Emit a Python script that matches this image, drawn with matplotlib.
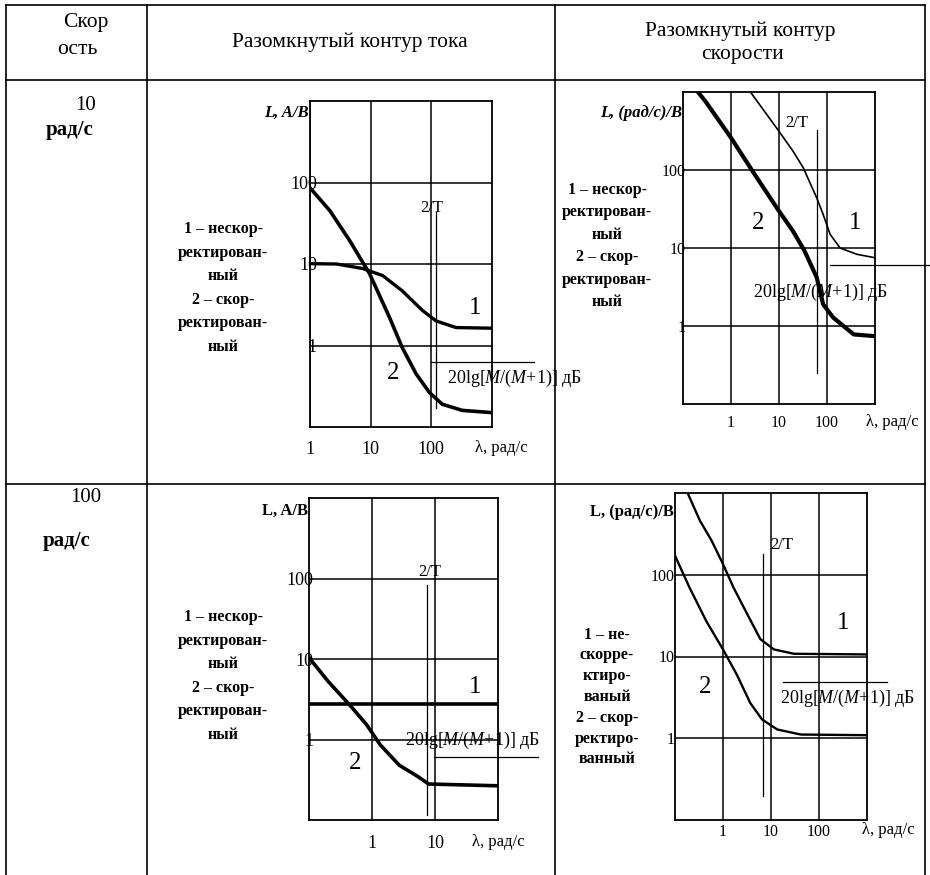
import numpy as np
import matplotlib
matplotlib.use("Agg")
import matplotlib.pyplot as plt

plt.rcParams['font.family'] = ['Liberation Serif', 'DejaVu Serif']
plt.rcParams['mathtext.fontset'] = 'custom'
plt.rcParams['mathtext.rm'] = 'Liberation Serif'
plt.rcParams['mathtext.it'] = 'Liberation Serif:italic'

W, H = 930, 875

# --- data: LAFC curves, omega (rad/s) vs L ---
# speed 10 rad/s, current loop
w_i10_unc = [1, 2.74, 7.4, 15.8, 33, 71, 120, 255, 1000]
L_i10_unc = [10.1, 10.0, 8.8, 7.2, 4.7, 2.7, 2.0, 1.66, 1.63]
w_i10_cor = [1, 2.13, 4.5, 9.6, 20.5, 33, 56, 93, 152, 323, 1000]
L_i10_cor = [86, 45, 19.4, 7.6, 2.2, 0.95, 0.45, 0.265, 0.19, 0.16, 0.15]

# speed 10 rad/s, speed loop
w_v10_unc = [2.6, 9.9, 19.5, 32, 61, 83, 116, 187, 420, 1000]
L_v10_unc = [980, 316, 175, 107, 44, 27, 15, 10, 8.3, 7.5]
w_v10_cor = [0.21, 0.29, 1, 2.8, 9.9, 19.5, 34, 61, 83, 135, 360, 1000]
L_v10_cor = [980, 767, 259, 97, 30, 16.5, 9.2, 4.2, 1.9, 1.28, 0.78, 0.74]

# speed 100 rad/s, current loop
w_i100_unc = [0.1, 100]
L_i100_unc = [2.8, 2.8]
w_i100_cor = [0.1, 0.2, 0.44, 0.82, 1.35, 2.7, 5.4, 7.9, 100]
L_i100_cor = [10.4, 5.3, 2.7, 1.53, 0.86, 0.48, 0.345, 0.28, 0.266]

# speed 100 rad/s, speed loop
w_v100_unc = [0.186, 0.33, 0.58, 1, 1.65, 3.2, 6, 11.5, 30, 1000]
L_v100_unc = [980, 460, 261, 135, 70, 33, 16.3, 12.2, 10.8, 10.6]
w_v100_cor = [0.1, 0.2, 0.45, 1, 1.94, 3.7, 6.5, 13.5, 42, 1000]
L_v100_cor = [171, 70, 27, 12.2, 6, 2.7, 1.7, 1.28, 1.11, 1.09]

fig = plt.figure(figsize=(W / 100, H / 100), dpi=100)


def box(x0, y0, x1, y1):
    return fig.add_axes([x0 / W, 1 - y1 / H, (x1 - x0) / W, (y1 - y0) / H])


def setup(ax, xlim, xt, fs, xpad, ypad):
    ax.set_xscale('log')
    ax.set_yscale('log')
    ax.set_xlim(*xlim)
    ax.set_ylim(0.1, 1000)
    ax.set_facecolor('none')
    ax.set_xticks(xt, [f'{t:g}' for t in xt])
    ax.set_yticks([1, 10, 100], ['1', '10', '100'])
    ax.minorticks_off()
    ax.tick_params(length=0, labelsize=fs)
    ax.tick_params(axis='x', pad=xpad)
    ax.tick_params(axis='y', pad=ypad)
    ax.grid(True, color='black', lw=1.1)
    for s in ax.spines.values():
        s.set_linewidth(1.3)


ax1 = box(310, 101, 492, 427)
setup(ax1, (1, 1000), [1, 10, 100], 13, 10, -5)
ax1.plot(w_i10_unc, L_i10_unc, color='black', lw=2.4)
ax1.plot(w_i10_cor, L_i10_cor, color='black', lw=2.6)
ax1.plot([120, 120], [43, 0.17], color='black', lw=0.9)
ax1.plot([100, 4900], [0.62, 0.62], color='black', lw=0.9, clip_on=False)

ax2 = box(683, 92, 875, 404)
setup(ax2, (0.1, 1000), [1, 10, 100], 11.5, 8, -2)
ax2.plot(w_v10_unc, L_v10_unc, color='black', lw=1.2)
ax2.plot(w_v10_cor, L_v10_cor, color='black', lw=3.0)
ax2.plot([62, 62], [325, 0.25], color='black', lw=0.9)
ax2.plot([115, 15000], [6.0, 6.0], color='black', lw=0.9, clip_on=False)

ax3 = box(309, 498, 498, 820)
setup(ax3, (0.1, 100), [1, 10], 13, 11, -3)
ax3.plot(w_i100_unc, L_i100_unc, color='black', lw=2.6)
ax3.plot(w_i100_cor, L_i100_cor, color='black', lw=2.6)
ax3.plot([7.4, 7.4], [82, 0.115], color='black', lw=0.9)
ax3.plot([9.6, 436], [0.6, 0.6], color='black', lw=0.9, clip_on=False)

ax4 = box(675, 493, 867, 820)
setup(ax4, (0.1, 1000), [1, 10, 100], 11.5, 3, 0)
ax4.plot(w_v100_unc, L_v100_unc, color='black', lw=1.7)
ax4.plot(w_v100_cor, L_v100_cor, color='black', lw=1.7)
ax4.plot([6.9, 6.9], [180, 0.195], color='black', lw=0.9)
ax4.plot([18, 2570], [4.9, 4.9], color='black', lw=0.9, clip_on=False)

# overlay in pixel coordinates for the table frame and free text
bg = fig.add_axes([0, 0, 1, 1], zorder=5)
bg.set_xlim(0, W)
bg.set_ylim(H, 0)
bg.set_facecolor('none')
bg.axis('off')

lw_tab = 1.2
for y in (5, 80, 484):
    bg.plot([6, 925], [y, y], color='black', lw=lw_tab)
for x in (6, 147, 555, 925):
    bg.plot([x, x], [5, 875], color='black', lw=lw_tab)

bg.text(86, 22, 'Скор', ha='center', va='center', fontsize=15.5)
bg.text(77, 50, 'ость', ha='center', va='center', fontsize=15.5)
bg.text(350, 42, 'Разомкнутый контур тока', ha='center', va='center', fontsize=15.5)
bg.text(740, 31, 'Разомкнутый контур', ha='center', va='center', fontsize=15.5)
bg.text(742, 55, 'скорости', ha='center', va='center', fontsize=15.5)

bg.text(86, 106, '10', ha='center', va='center', fontsize=15)
bg.text(70, 130, 'рад/с', ha='center', va='center', fontsize=15, weight='bold')
bg.text(86, 498, '100', ha='center', va='center', fontsize=15)
bg.text(67, 541, 'рад/с', ha='center', va='center', fontsize=15, weight='bold')

leg6 = '1 – нескор-\nректирован-\nный\n2 – скор-\nректирован-\nный'
bg.text(223, 288, leg6, ha='center', va='center', fontsize=11.5, weight='bold',
        linespacing=1.62)
bg.text(607, 246, leg6, ha='center', va='center', fontsize=11.5, weight='bold',
        linespacing=1.55)
bg.text(223, 676, leg6, ha='center', va='center', fontsize=11.5, weight='bold',
        linespacing=1.62)
leg7 = '1 – не-\nскорре-\nктиро-\nваный\n2 – скор-\nректиро-\nванный'
bg.text(607, 697, leg7, ha='center', va='center', fontsize=11.5, weight='bold',
        linespacing=1.4)

bg.text(309, 113, 'L, A/B', ha='right', va='center', fontsize=12, weight='bold',
        style='italic')
bg.text(682, 113, 'L, (рад/с)/B', ha='right', va='center', fontsize=12,
        weight='bold', style='italic')
bg.text(308, 511, 'L, A/B', ha='right', va='center', fontsize=12, weight='bold')
bg.text(674, 512, 'L, (рад/с)/B', ha='right', va='center', fontsize=12,
        weight='bold')

bg.text(475, 448, 'λ, рад/с', ha='left', va='center', fontsize=12)
bg.text(866, 422, 'λ, рад/с', ha='left', va='center', fontsize=12)
bg.text(472, 842, 'λ, рад/с', ha='left', va='center', fontsize=12)
bg.text(862, 830, 'λ, рад/с', ha='left', va='center', fontsize=12)

lab = '20lg[$\\mathit{M}$/($\\mathit{M}$+1)] дБ'
bg.text(447, 378, lab, ha='left', va='center', fontsize=13)
bg.text(753, 292, lab, ha='left', va='center', fontsize=13)
bg.text(405, 740, lab, ha='left', va='center', fontsize=13)
bg.text(780, 698, lab, ha='left', va='center', fontsize=13)

bg.text(432, 208, '2/T', ha='center', va='center', fontsize=12)
bg.text(797, 123, '2/T', ha='center', va='center', fontsize=12)
bg.text(430, 572, '2/T', ha='center', va='center', fontsize=12)
bg.text(782, 545, '2/T', ha='center', va='center', fontsize=12)

for x, y, s in [(475, 308, '1'), (393, 373, '2'), (855, 223, '1'), (758, 223, '2'),
                (475, 687, '1'), (355, 763, '2'), (843, 623, '1'), (705, 687, '2')]:
    bg.text(x, y, s, ha='center', va='center', fontsize=18)

fig.savefig('out.png', dpi=100)
